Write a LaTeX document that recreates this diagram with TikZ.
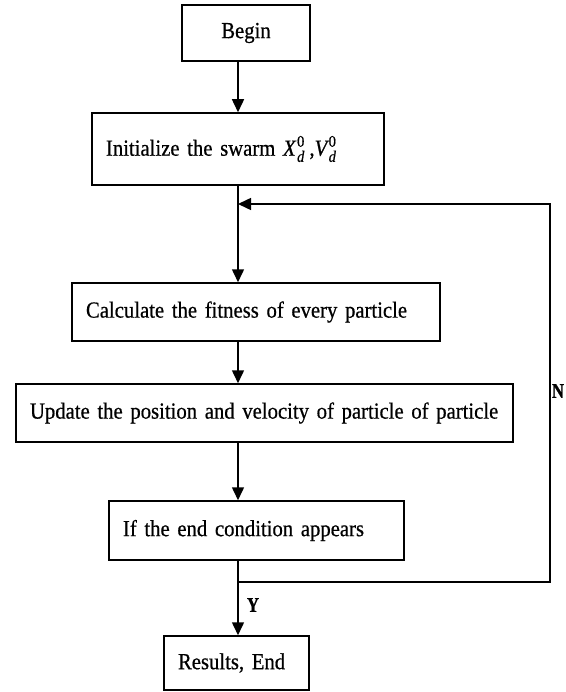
\documentclass[tikz,border=0pt]{standalone}
\usepackage{fontspec}
\setmainfont[FakeStretch=0.9, FakeBold=0.6]{Liberation Serif}
\newfontfamily\ynfont[FakeStretch=0.8, FakeBold=1]{Liberation Serif}
\usetikzlibrary{arrows.meta}
\tikzset{
  box/.style={draw, line width=1.5pt, inner xsep=14pt, inner ysep=0pt, align=left,
    font=\fontsize{23}{27}\selectfont},
  flow/.style={line width=1.5pt},
  arr/.style={flow, -{Triangle[width=12pt,length=13pt]}},
  yn/.style={font=\ynfont\bfseries\fontsize{21}{22}\selectfont, inner sep=0pt}
}
\begin{document}
\begin{tikzpicture}[x=1pt, y=-1pt]
\useasboundingbox (0,0) rectangle (565,692);
\node[box, align=center, text width=100pt, minimum height=56pt] (beg) at (246,33) {Begin};
\node[box, text width=264pt, minimum height=72pt] (init) at (238,149) {Initialize the swarm $\mathit{X}_{\mathit{d}}^{\mathrm{0}}$\,,$\mathit{V}_{\mathit{d}}^{\mathrm{0}}$};
\node[box, text width=340pt, minimum height=58pt] (calc) at (256,312) {Calculate the fitness of every particle};
\node[box, text width=469pt, minimum height=58pt] (upd) at (264.5,413) {Update the position and velocity of particle of particle};
\node[box, text width=267pt, minimum height=59pt] (cond) at (256.5,530.5) {If the end condition appears};
\node[box, text width=117pt, minimum height=54pt] (res) at (236.5,663) {Results, End};
\coordinate (sp) at (238,0);
\coordinate (j1) at (238,204);
\coordinate (c1) at (550,582);
\coordinate (c2) at (550,204);
\draw[arr] (beg.south -| sp) -- (init.north -| sp);
\draw[arr] (init.south -| sp) -- (calc.north -| sp);
\draw[arr] (calc.south -| sp) -- (upd.north -| sp);
\draw[arr] (upd.south -| sp) -- (cond.north -| sp);
\draw[arr] (cond.south -| sp) -- (res.north -| sp);
\draw[arr] (sp |- c1) -- (c1) -- (c2) -- (j1);
\node[yn] (y) at (253,605) {Y};
\node[yn] (n) at (558,391) {N};
\end{tikzpicture}
\end{document}
